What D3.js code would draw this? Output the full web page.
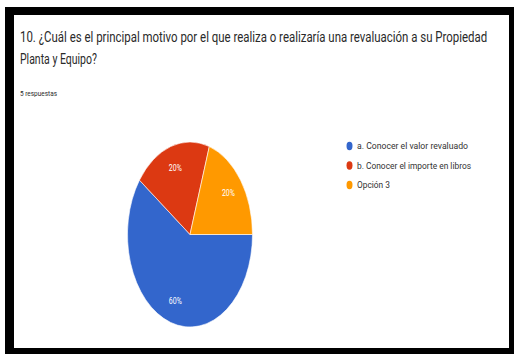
<!DOCTYPE html>
<html>
<head>
<meta charset="utf-8">
<script src="https://cdn.jsdelivr.net/npm/d3@7"></script>
<style>
  html, body { margin: 0; padding: 0; background: #ffffff; }
  svg { display: block; }
</style>
</head>
<body>
<svg id="chart" width="514" height="354"></svg>
<script>
// Survey answers for question 10
const categories = [
  "a. Conocer el valor revaluado",
  "b. Conocer el importe en libros",
  "Opción 3"
];
const values = [3, 1, 1];
const colors = ["#3366cc", "#dc3912", "#ff9900"];
const titleLines = [
  "10. ¿Cuál es el principal motivo por el que realiza o realizaría una revaluación a su Propiedad",
  "Planta y Equipo?"
];
const subtitle = "5 respuestas";

const svg = d3.select("#chart");

// Framed card
svg.append("rect").attr("x", 5).attr("y", 7).attr("width", 509).attr("height", 347).attr("fill", "#000");
svg.append("rect").attr("x", 14).attr("y", 15).attr("width", 495).attr("height", 333).attr("fill", "#fff");

// Question title, condensed horizontally to fit the card
const titleWidths = [468, 77];
titleLines.forEach((t, i) => {
  const txt = svg.append("text")
    .attr("font-family", "Roboto, sans-serif")
    .attr("font-size", 14)
    .attr("fill", "#2a2a2a")
    .text(t);
  const w = txt.node().getComputedTextLength();
  const k = titleWidths[i] / w;
  txt.attr("transform", `translate(20,${42 + i * 22}) scale(${k},1)`);
});

svg.append("text")
  .attr("x", 20).attr("y", 96)
  .attr("font-family", "Roboto, sans-serif")
  .attr("font-size", 8)
  .attr("fill", "#2a2a2a")
  .attr("textLength", 37)
  .attr("lengthAdjust", "spacingAndGlyphs")
  .text(subtitle);

// Pie, drawn as a circle and stretched vertically
const cx = 190, cy = 234.5, rx = 62.5, ry = 92.5;
const total = d3.sum(values);
const pie = d3.pie().sort(null).startAngle(Math.PI / 2).endAngle(Math.PI / 2 + 2 * Math.PI);
const arcs = pie(values);
const arc = d3.arc().innerRadius(0).outerRadius(rx);
const labelArc = d3.arc().innerRadius(rx * 0.76).outerRadius(rx * 0.76);

const g = svg.append("g").attr("transform", `translate(${cx},${cy})`);
g.append("g")
  .attr("transform", `scale(1,${ry / rx})`)
  .selectAll("path")
  .data(arcs)
  .join("path")
  .attr("d", arc)
  .attr("fill", (d, i) => colors[i])
  .attr("stroke", "#fff")
  .attr("stroke-width", 0.6)
  .attr("vector-effect", "non-scaling-stroke");

g.selectAll("text.pct")
  .data(arcs)
  .join("text")
  .attr("class", "pct")
  .attr("x", d => labelArc.centroid(d)[0])
  .attr("y", d => labelArc.centroid(d)[1] * ry / rx)
  .attr("text-anchor", "middle")
  .attr("dominant-baseline", "central")
  .attr("font-family", "Roboto, sans-serif")
  .attr("font-size", 9)
  .attr("fill", "#fff")
  .attr("textLength", 13)
  .attr("lengthAdjust", "spacingAndGlyphs")
  .text(d => Math.round(d.value / total * 100) + "%");

// Legend
const legendY = d3.scalePoint().domain(categories).range([146, 185]);
const legendWidths = [111, 114, 33];
const lg = svg.append("g");
categories.forEach((c, i) => {
  lg.append("ellipse")
    .attr("cx", 349.5).attr("cy", legendY(c))
    .attr("rx", 3).attr("ry", 4.2)
    .attr("fill", colors[i]);
  lg.append("text")
    .attr("x", 357).attr("y", legendY(c))
    .attr("dominant-baseline", "central")
    .attr("font-family", "Roboto, sans-serif")
    .attr("font-size", 8.5)
    .attr("fill", "#333")
    .attr("textLength", legendWidths[i])
    .attr("lengthAdjust", "spacingAndGlyphs")
    .text(c);
});
</script>
</body>
</html>
